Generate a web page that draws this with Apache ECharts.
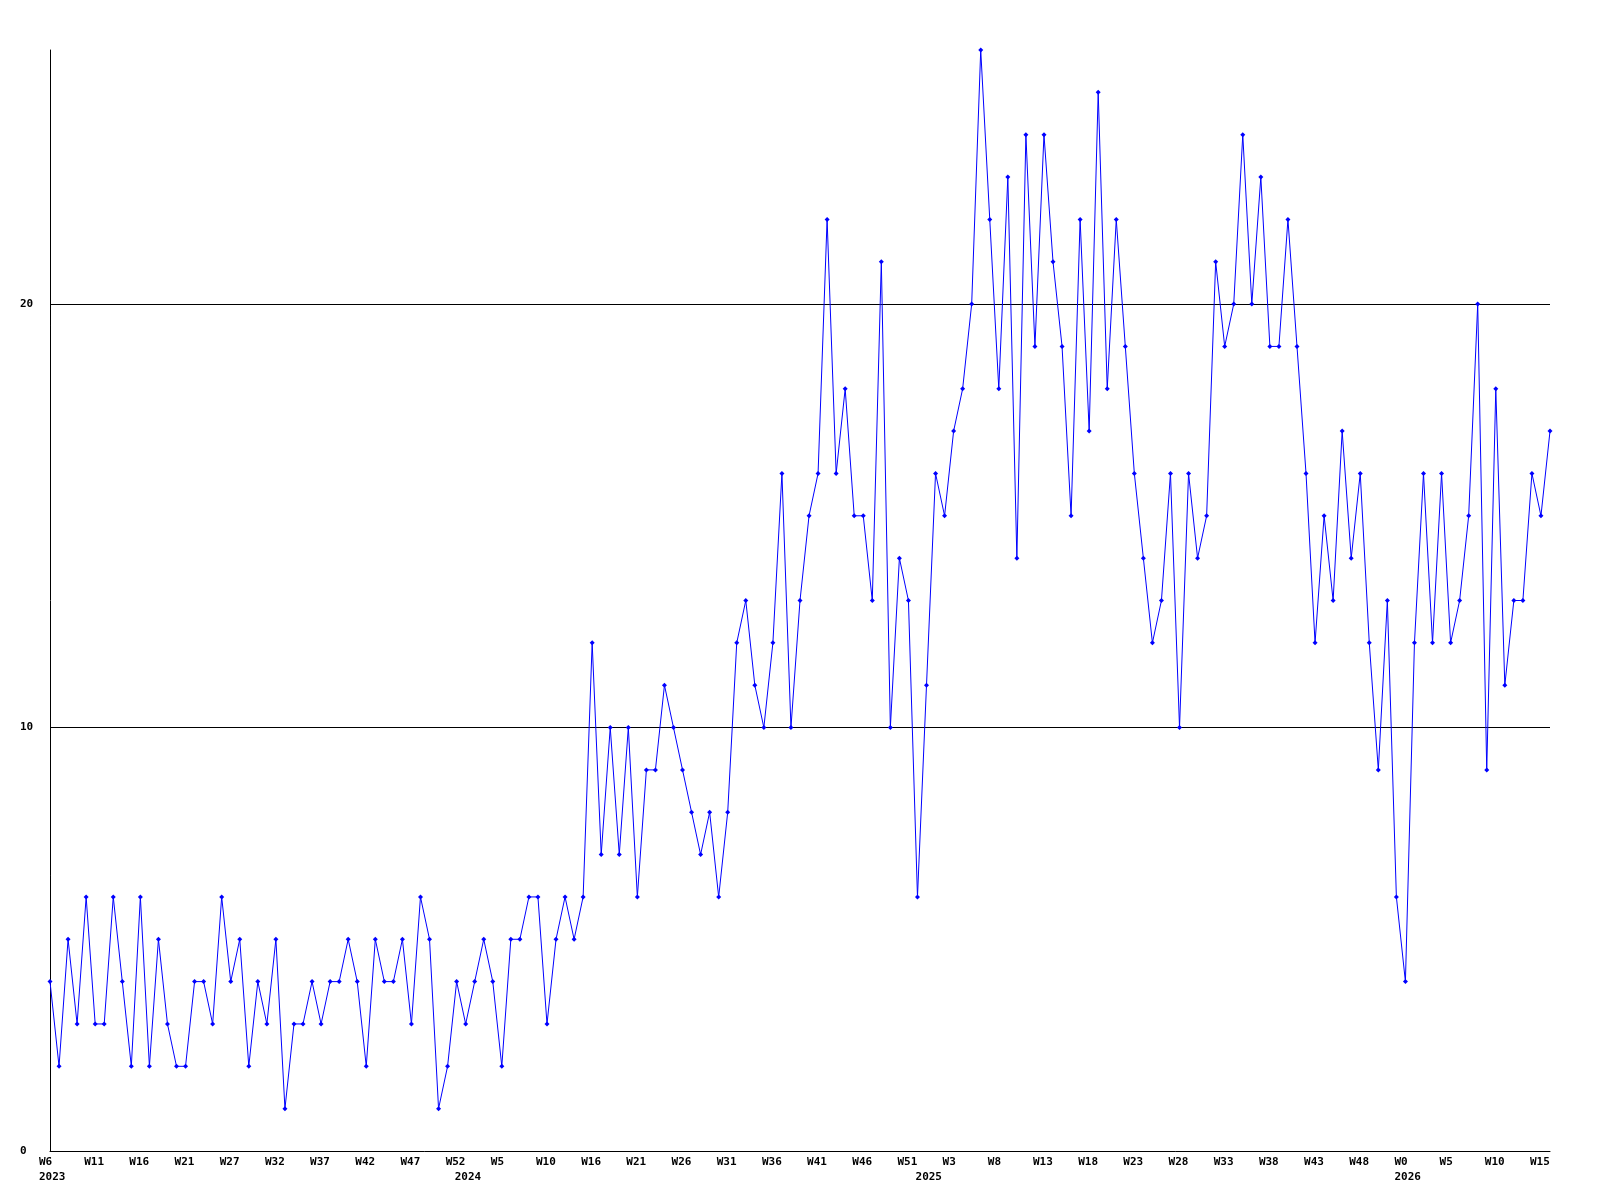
<!DOCTYPE html>
<html>
<head>
<meta charset="utf-8">
<script src="https://cdn.jsdelivr.net/npm/echarts@6/dist/echarts.min.js"></script>
<style>
html,body{margin:0;padding:0;background:#fff;}
#chart{width:1600px;height:1200px;}
</style>
</head>
<body>
<div id="chart"></div>
<script>
// Weekly values, W6 2023 .. W16 2026 (167 points)
const values = [
  4,2,5,3,6,3,3,6,4,2, 6,2,5,3,2,2,4,4,3,6, 4,5,2,4,3,5,1,3,3,4, 3,4,4,5,4,2,5,4,4,5, 3,6,
  5,1,2,4,3,4,5,4,2,5, 5,6,6,3,5,6,5,6,12,7, 10,7,10,6,9,9,11,10,9,8, 7,8,6,8,12,13,11,10,12,16, 10,13,15,16,
  22,16,18,15,15,13,21,10,14,13, 6,11,16,15,17,18,20,26,22,18, 23,14,24,19,24,21,19,15,22,17, 25,18,22,19,16,14,12,13,16,10, 16,14,15,21,
  19,20,24,20,23,19,19,22,19,16, 12,15,13,17,14,16,12,9,13,6, 4,12,16,12,16,12,13,15,20,9, 18,11,13,13,16,15,17
];
// Week tick labels, one every 5 points
const tickLabels = ['W6','W11','W16','W21','W27','W32','W37','W42','W47','W52','W5','W10','W16','W21','W26','W31','W36','W41','W46','W51','W3','W8','W13','W18','W23','W28','W33','W38','W43','W48','W0','W5','W10','W15'];
// Year labels and the point index where each year starts
const yearNames = ['2023','2024','2025','2026'];
const yearIdx = [0,46,97,150];
const yTicks = [0,10,20];

const cats = values.map((v,i)=>String(i));
const font = {fontFamily:'"DejaVu Sans Mono", monospace', fontWeight:'bold', fontSize:11, color:'#000'};

const chart = echarts.init(document.getElementById('chart'));
chart.setOption({
  animation:false,
  backgroundColor:'#fff',
  grid:[
    {left:50,right:50,top:50,bottom:49},
    {left:39,right:61,top:50,bottom:49}
  ],
  xAxis:[
    {type:'category',gridIndex:0,data:cats,boundaryGap:false,
     axisLine:{lineStyle:{color:'#000',width:1}},axisTick:{show:false},axisLabel:{show:false},splitLine:{show:false}},
    {type:'category',gridIndex:1,data:cats,boundaryGap:false,
     axisLine:{show:false},axisTick:{show:false},splitLine:{show:false},
     axisLabel:Object.assign({interval:4,align:'left',margin:6,
       formatter:(v,i)=>tickLabels[Math.round(i/5)]||''},font)},
    {type:'category',gridIndex:1,data:cats,boundaryGap:false,position:'bottom',offset:15,
     axisLine:{show:false},axisTick:{show:false},splitLine:{show:false},
     axisLabel:Object.assign({interval:(i)=>yearIdx.indexOf(i)>=0,align:'left',margin:6,
       formatter:(v,i)=>{const k=yearIdx.indexOf(i);return k>=0?yearNames[k]:'';}},font)}
  ],
  yAxis:[
    {type:'value',gridIndex:0,min:0,max:26,interval:10,
     axisLine:{show:true,lineStyle:{color:'#000',width:1}},axisTick:{show:false},
     splitLine:{show:true,showMinLine:false,showMaxLine:false,lineStyle:{color:'#000',width:1}},
     axisLabel:Object.assign({align:'left',margin:30,
       formatter:(v)=>yTicks.indexOf(v)>=0?String(v):''},font)},
    {type:'value',gridIndex:1,min:0,max:26,show:false}
  ],
  series:[{
    type:'line',xAxisIndex:0,yAxisIndex:0,data:values,
    color:'#0000ff',
    lineStyle:{color:'#0000ff',width:1},
    itemStyle:{color:'#0000ff'},
    symbol:'diamond',symbolSize:5,showSymbol:true,showAllSymbol:true,
    emphasis:{disabled:true}
  }]
});
</script>
</body>
</html>
